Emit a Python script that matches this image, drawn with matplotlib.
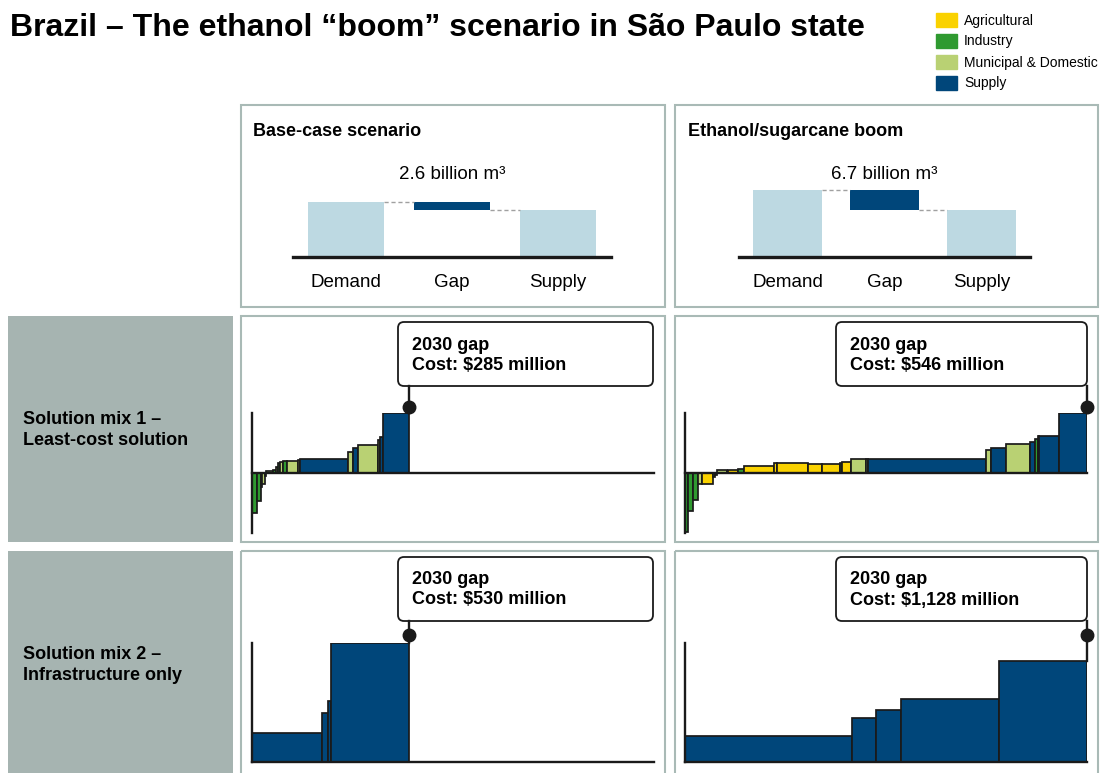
import matplotlib
matplotlib.use('Agg')
import matplotlib.pyplot as plt
import numpy as np
from matplotlib.patches import Rectangle, FancyBboxPatch

plt.rcParams['font.family'] = ['Liberation Sans', 'DejaVu Sans']

# ---- data -------------------------------------------------------------
# demand / supply in billion m3
supply = 15.7
demand_base = 18.3
demand_ethanol = 22.4
bar_labels = ['Demand', 'Gap', 'Supply']

# cost curves: widths in million m3, heights in $/m3, sector code
base_mix1_w = [83, 56, 26, 40, 22, 121, 45, 38, 28, 55, 56, 192, 28, 800,
               83, 83, 331, 28, 45, 440]
base_mix1_h = [-0.20, -0.14, -0.07, -0.055, -0.015, 0.01, 0.015, 0.03, 0.05,
               0.055, 0.06, 0.062, 0.065, 0.068, 0.107, 0.123, 0.14, 0.165,
               0.18, 0.30]
base_mix1_s = ['I', 'I', 'I', 'M', 'I', 'M', 'I', 'M', 'I', 'M', 'I', 'M',
               'M', 'S', 'M', 'S', 'M', 'M', 'S', 'S']

eth_mix1_w = [55, 83, 73, 66, 192, 28, 28, 166, 26, 166, 94, 501, 50, 513,
              232, 293, 28, 154, 243, 43, 1948, 83, 248, 397, 83, 45, 26,
              331, 453]
eth_mix1_h = [-0.295, -0.19, -0.135, -0.055, -0.055, -0.02, -0.01, 0.015,
              0.01, 0.013, 0.02, 0.037, 0.048, 0.048, 0.045, 0.045, 0.05,
              0.053, 0.07, 0.07, 0.07, 0.115, 0.125, 0.145, 0.155, 0.17,
              0.183, 0.187, 0.30]
eth_mix1_s = ['I', 'I', 'I', 'M', 'A', 'I', 'A', 'M', 'I', 'A', 'I', 'A',
              'A', 'A', 'A', 'A', 'I', 'A', 'M', 'M', 'S', 'M', 'S', 'M',
              'S', 'I', 'S', 'S', 'S']

base_mix2_w = [1150, 95, 55, 1300]
base_mix2_h = [0.078, 0.133, 0.165, 0.32]
base_mix2_s = ['S', 'S', 'S', 'S']

eth_mix2_w = [2760, 405, 400, 1630, 1455]
eth_mix2_h = [0.069, 0.117, 0.141, 0.169, 0.272]
eth_mix2_s = ['S', 'S', 'S', 'S', 'S']

costs = ['$285 million', '$546 million', '$530 million', '$1,128 million']

sector_names = ['Agricultural', 'Industry', 'Municipal & Domestic', 'Supply']
sector_colors = {'A': '#FAD200', 'I': '#2F9A30', 'M': '#B9D173', 'S': '#00467A'}
light_blue = '#BDD9E2'
border = '#A9BAB6'
label_grey = '#A6B4B1'
ink = '#1A1A1A'

W, H = 1101, 773
fig = plt.figure(figsize=(W / 100, H / 100), dpi=100)

# overlay in pixel coordinates for frames and text
ov = fig.add_axes([0, 0, 1, 1])
ov.set_xlim(0, W)
ov.set_ylim(H, 0)
ov.axis('off')


def px_axes(x0, y0, x1, y1):
    a = fig.add_axes([x0 / W, 1 - y1 / H, (x1 - x0) / W, (y1 - y0) / H])
    a.patch.set_alpha(0)
    return a


ov.text(10, 28, 'Brazil – The ethanol “boom” scenario in São Paulo state',
        fontsize=23, fontweight='bold', va='center', ha='left')

# legend
for i, (name, key) in enumerate(zip(sector_names, 'AIMS')):
    ov.add_patch(Rectangle((936, 13 + 21 * i), 21, 14, color=sector_colors[key]))
    ov.text(964, 20.5 + 21 * i, name, fontsize=10, va='center', ha='left')

# panel frames
for x0, x1 in [(241, 665), (675, 1098)]:
    for y0, y1 in [(105, 307), (316, 542), (551, 790)]:
        ov.add_patch(Rectangle((x0, y0), x1 - x0, y1 - y0, fill=False,
                               edgecolor=border, lw=1.5))
for y0, y1 in [(316, 542), (551, 790)]:
    ov.add_patch(Rectangle((8, y0), 225, y1 - y0, color=label_grey, lw=0))

ov.text(23, 430, 'Solution mix 1 –\nLeast-cost solution', fontsize=13,
        fontweight='bold', va='center', ha='left', linespacing=1.32)
ov.text(23, 665, 'Solution mix 2 –\nInfrastructure only', fontsize=13,
        fontweight='bold', va='center', ha='left', linespacing=1.32)

ov.text(253, 131, 'Base-case scenario', fontsize=13, fontweight='bold',
        va='center', ha='left')
ov.text(688, 131, 'Ethanol/sugarcane boom', fontsize=13, fontweight='bold',
        va='center', ha='left')


# ---- demand / supply mini charts ---------------------------------------
def gap_chart(ax, demand, label):
    gap = demand - supply
    w = 0.714
    ax.bar(0, demand, w, color=light_blue)
    ax.bar(1, gap, w, bottom=supply, color=sector_colors['S'])
    ax.bar(2, supply, w, color=light_blue)
    ax.plot([w / 2, 1 - w / 2], [demand, demand], ls=(0, (3, 2)),
            color='#A0A0A0', lw=1)
    ax.plot([1 + w / 2, 2 - w / 2], [supply, supply], ls=(0, (3, 2)),
            color='#A0A0A0', lw=1)
    ax.axhline(0, color=ink, lw=2.4, clip_on=False)
    ax.set_xlim(-0.5, 2.5)
    ax.set_ylim(0, 30)
    ax.set_xticks([0, 1, 2])
    ax.set_xticklabels(bar_labels, fontsize=13.5)
    ax.tick_params(length=0, pad=12)
    ax.set_yticks([])
    for s in ax.spines.values():
        s.set_visible(False)
    ax.text(1, 27.4, label, ha='center', va='center', fontsize=13.5)


gap_chart(px_axes(293, 167, 611, 257), demand_base, '2.6 billion m³')
gap_chart(px_axes(739, 167, 1030, 257), demand_ethanol, '6.7 billion m³')


# ---- cost curves -------------------------------------------------------
def cost_curve(ax, widths, heights, sectors, ylim, dot_px, box, cost):
    widths = np.array(widths, float)
    left = np.concatenate([[0], np.cumsum(widths)[:-1]])
    ax.bar(left, heights, widths, align='edge',
           color=[sector_colors[s] for s in sectors],
           edgecolor=ink, linewidth=1.25, zorder=2)
    ax.set_xlim(0, 6650)
    ax.set_ylim(*ylim)
    ax.axhline(0, color=ink, lw=1.7, zorder=3, clip_on=False)
    for k, s in ax.spines.items():
        s.set_visible(k == 'left')
    ax.spines['left'].set_linewidth(1.7)
    ax.spines['left'].set_color(ink)
    ax.set_xticks([])
    ax.set_yticks([])

    # gap marker
    total = widths.sum()
    per_px = (ylim[1] - ylim[0]) / (ax.bbox.height)
    bx0, by0, bx1, by1 = box
    top_px = fig.bbox.height - ax.bbox.y1
    line_top = ylim[1] + (top_px - by1) * per_px
    ax.plot([total, total], [heights[-1], line_top], color=ink, lw=1.7,
            clip_on=False, zorder=4)
    ax.plot(total, ylim[1] + dot_px * per_px, 'o', ms=9, color=ink,
            clip_on=False, zorder=5)

    ov.add_patch(FancyBboxPatch((bx0, by0), bx1 - bx0, by1 - by0,
                                boxstyle='round,pad=0,rounding_size=6',
                                facecolor='white', edgecolor=ink, lw=1.3))
    ov.text(bx0 + 14, by0 + 23, '2030 gap', fontsize=13, fontweight='bold',
            va='center', ha='left')
    ov.text(bx0 + 14, by0 + 43, 'Cost: ' + cost, fontsize=13,
            fontweight='bold', va='center', ha='left')


cost_curve(px_axes(252.3, 413, 654.3, 533), base_mix1_w, base_mix1_h,
           base_mix1_s, (-0.3, 0.3), 6.5, (398, 322, 653, 386), costs[0])
cost_curve(px_axes(685, 413, 1087, 533), eth_mix1_w, eth_mix1_h,
           eth_mix1_s, (-0.3, 0.3), 6.5, (836, 322, 1087, 386), costs[1])
cost_curve(px_axes(252.3, 643, 654.3, 762), base_mix2_w, base_mix2_h,
           base_mix2_s, (0, 0.32), 8, (398, 557, 653, 621), costs[2])
cost_curve(px_axes(685, 643, 1087, 762), eth_mix2_w, eth_mix2_h,
           eth_mix2_s, (0, 0.32), 8, (836, 557, 1087, 621), costs[3])

fig.savefig('out.png', dpi=100)
